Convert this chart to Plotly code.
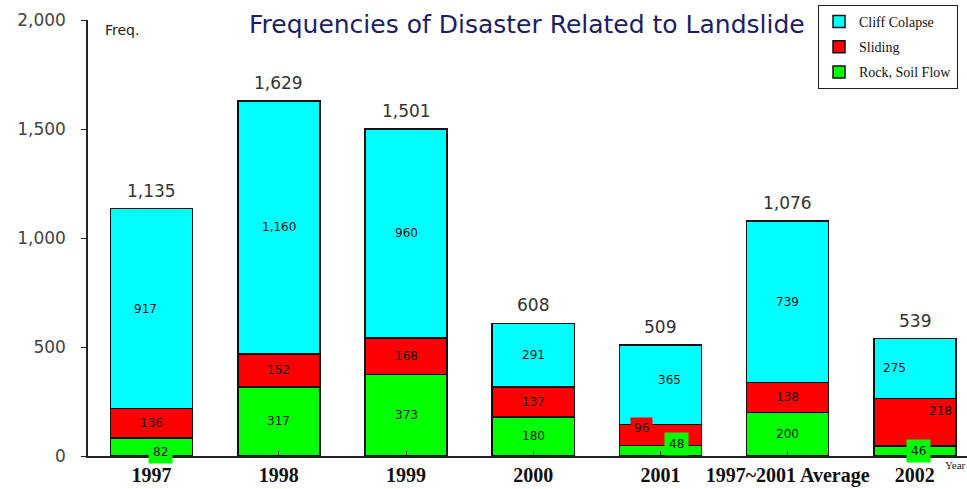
import plotly.graph_objects as go

categories = ["1997", "1998", "1999", "2000", "2001", "1997~2001 Average", "2002"]
rock_soil_flow = [82, 317, 373, 180, 48, 200, 46]
sliding = [136, 152, 168, 137, 96, 138, 218]
cliff_colapse = [917, 1160, 960, 291, 365, 739, 275]
total_labels = ["1,135", "1,629", "1,501", "608", "509", "1,076", "539"]
cliff_labels = ["917", "1,160", "960", "291", "365", "739", "275"]
sliding_labels = ["136", "152", "168", "137", "96", "138", "218"]
rock_labels = ["82", "317", "373", "180", "48", "200", "46"]
y_ticks = [0, 500, 1000, 1500, 2000]
y_tick_text = ["0", "500", "1,000", "1,500", "2,000"]

CYAN, RED, GREEN = "#00FFFF", "#FF0000", "#00FF00"
idx = list(range(len(categories)))

fig = go.Figure()
for name, vals, col, rank in [("Rock, Soil Flow", rock_soil_flow, GREEN, 3),
                              ("Sliding", sliding, RED, 2),
                              ("Cliff Colapse", cliff_colapse, CYAN, 1)]:
    fig.add_trace(go.Bar(x=idx, y=vals, name=name, width=0.645,
                         marker=dict(color=col, line=dict(color="#111", width=1.5)),
                         legendgroup=name, legendrank=rank))

seg_font = dict(family="DejaVu Sans", size=12, color="#111")
# label offsets (x in category units, y in px) for a few labels
rock_dx = [0.07, 0, 0, 0, 0.13, 0, 0.03]
rock_dy = [-5, 0, 0, 0, 7, 0, 0]
rock_box = [True, False, False, False, True, False, True]
slide_dx = [0, 0, 0, 0, -0.15, 0, 0.2]
slide_dy = [0, 0, 0, 0, 7, 0, 11]
slide_box = [False, False, False, False, True, False, False]
cliff_dx = [-0.05, 0, 0, 0, 0.07, 0, -0.16]
cliff_dy = [0, 0, 0, 0, 5, 0, 0]

for i in idx:
    r, s, c = rock_soil_flow[i], sliding[i], cliff_colapse[i]
    fig.add_annotation(x=i + rock_dx[i], y=r / 2, yshift=rock_dy[i], text=rock_labels[i],
                       showarrow=False, font=seg_font,
                       bgcolor=GREEN if rock_box[i] else None, borderpad=4)
    fig.add_annotation(x=i + slide_dx[i], y=r + s / 2, yshift=slide_dy[i], text=sliding_labels[i],
                       showarrow=False, font=seg_font,
                       bgcolor=RED if slide_box[i] else None, borderpad=3)
    fig.add_annotation(x=i + cliff_dx[i], y=r + s + c / 2, yshift=cliff_dy[i], text=cliff_labels[i],
                       showarrow=False, font=seg_font)
    fig.add_annotation(x=i, y=r + s + c, yanchor="bottom", yshift=6, text=total_labels[i],
                       showarrow=False, font=dict(family="DejaVu Sans", size=17, color="#333"))

# pixel-placed texts (converted to paper coords below)
W, H = 967, 489
L, R, T, B = 88, 0, 20, 33
pw, ph = W - L - R, H - T - B

def px(xp, yp):
    return (xp - L) / pw, (H - B - yp) / ph

tx, ty = px(527, 25)
fig.add_annotation(x=tx, y=ty, xref="paper", yref="paper", xanchor="center", yanchor="middle",
                   text="Frequencies of Disaster Related to Landslide", showarrow=False,
                   font=dict(family="DejaVu Sans", size=25, color="#1d1d66"))
fx, fy = px(103, 30)
fig.add_annotation(x=fx, y=fy, xref="paper", yref="paper", xanchor="left", yanchor="middle",
                   text="Freq.", showarrow=False,
                   font=dict(family="DejaVu Sans", size=14, color="#222"))
yx, yy = px(955, 465)
fig.add_annotation(x=yx, y=yy, xref="paper", yref="paper", xanchor="center", yanchor="middle",
                   text="Year", showarrow=False,
                   font=dict(family="Liberation Serif", size=11, color="#222"))

fig.update_layout(
    width=W, height=H, barmode="stack", bargap=0.35,
    plot_bgcolor="white", paper_bgcolor="white",
    margin=dict(l=L, r=R, t=T, b=B),
    showlegend=True,
    legend=dict(x=1 - (967 - 818) / pw, y=1 + 15 / ph, xanchor="left", yanchor="top",
                traceorder="grouped",
                bordercolor="#222", borderwidth=1, bgcolor="white",
                font=dict(family="Liberation Serif", size=14, color="#111"),
                tracegroupgap=4, itemwidth=30),
    xaxis=dict(tickmode="array", tickvals=idx, ticktext=categories,
               range=[-0.5, 6.41], showline=True, linecolor="#222", linewidth=1.5,
               ticks="inside", tickson="boundaries", ticklen=5, tickcolor="#222",
               showgrid=False, zeroline=False,
               tickfont=dict(family="Liberation Serif", size=20, color="#111", weight="bold")),
    yaxis=dict(range=[0, 2000], tickvals=y_ticks, ticktext=y_tick_text,
               showline=True, linecolor="#222", linewidth=1.5, ticks="outside", ticklen=5,
               tickcolor="#222", showgrid=False, zeroline=False, ticklabelstandoff=12,
               tickfont=dict(family="DejaVu Sans", size=17, color="#444")),
)

fig.write_html("out.html")
